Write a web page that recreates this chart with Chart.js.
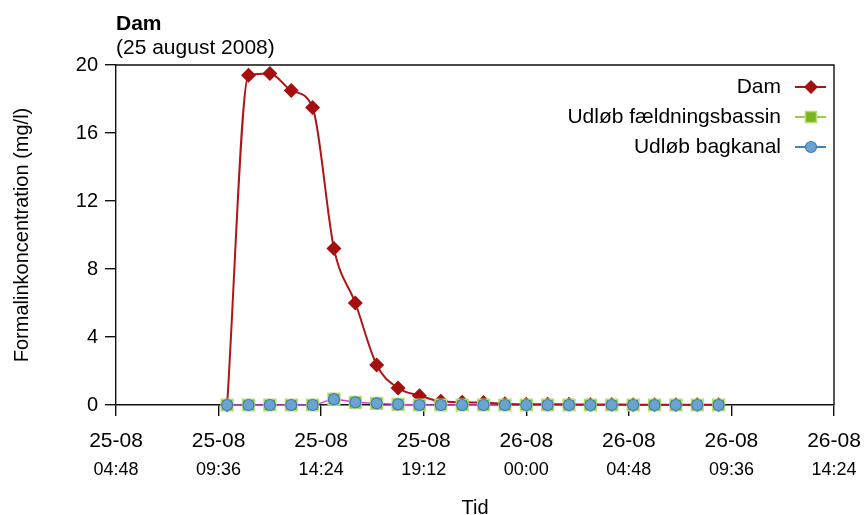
<!DOCTYPE html>
<html>
<head>
<meta charset="utf-8">
<script src="https://cdn.jsdelivr.net/npm/chart.js@4"></script>
<style>
  html, body { margin: 0; padding: 0; background: #fff; }
  #wrap { width: 864px; height: 515px; position: relative; }
</style>
</head>
<body>
<div id="wrap"><canvas id="c" width="864" height="515"></canvas></div>
<script>
// Sample times: hours since 25-08 00:00 (hourly readings)
const sampleHours = [10, 11, 12, 13, 14, 15, 16, 17, 18, 19, 20, 21, 22, 23, 24, 25, 26, 27, 28, 29, 30, 31, 32, 33];
// Series values (mg/l)
const damValues = [0, 19.4, 19.5, 18.5, 17.5, 9.2, 6.0, 2.35, 1.0, 0.55, 0.22, 0.16, 0.14, 0.08, 0.05, 0.05, 0.04, 0.03, 0.03, 0.02, 0.02, 0.02, 0.02, 0.02];
const faeldningValues = [0, 0, 0, 0, 0, 0.34, 0.16, 0.1, 0.04, 0, 0, 0, 0, 0, 0, 0, 0, 0, 0, 0, 0, 0, 0, 0];
const bagkanalValues = [0, 0, 0, 0, 0, 0.34, 0.16, 0.1, 0.04, 0, 0, 0, 0, 0, 0, 0, 0, 0, 0, 0, 0, 0, 0, 0];
// Series names
const seriesNames = ["Dam", "Udløb fældningsbassin", "Udløb bagkanal"];
// Tick labels
const tickDates = ["25-08", "25-08", "25-08", "25-08", "26-08", "26-08", "26-08", "26-08"];
const tickTimes = ["04:48", "09:36", "14:24", "19:12", "00:00", "04:48", "09:36", "14:24"];
const yTickValues = [0, 4, 8, 12, 16, 20];
const titleText = "Dam";
const subtitleText = "(25 august 2008)";
const yTitle = "Formalinkoncentration (mg/l)";
const xTitle = "Tid";

const FONT = "'Liberation Sans', Arial, Helvetica, sans-serif";
const xMin = 4.8 * 60, xMax = 38.4 * 60, xStep = 4.8 * 60; // minutes

const toPts = (vals) => vals.map((v, i) => ({ x: sampleHours[i] * 60, y: v }));

const colors = {
  dam: '#a50f0f',
  damLine: '#b01515',
  greenFill: '#78b41e',
  greenBorder: '#b6dc72',
  greenLine: '#9ccc44',
  blueFill: '#6aa3cf',
  blueBorder: '#3c7fb8',
  blueLine: '#3c86c6',
  magenta: '#d43fd0'
};

const frameAndLegend = {
  id: 'frameAndLegend',
  afterDraw(chart) {
    const ctx = chart.ctx;
    const a = chart.chartArea;
    ctx.save();
    // top & right frame
    ctx.strokeStyle = '#111';
    ctx.lineWidth = 1.4;
    ctx.beginPath();
    ctx.moveTo(a.left, a.top);
    ctx.lineTo(a.right, a.top);
    ctx.lineTo(a.right, a.bottom);
    ctx.stroke();

    // title & subtitle
    ctx.fillStyle = '#000';
    ctx.textAlign = 'left';
    ctx.textBaseline = 'middle';
    ctx.font = 'bold 21px ' + FONT;
    ctx.fillText(titleText, a.left, 24);
    ctx.font = '21px ' + FONT;
    ctx.fillText(subtitleText, a.left, 48);

    // legend
    const rows = [
      { name: seriesNames[0], line: colors.damLine, shape: 'diamond' },
      { name: seriesNames[1], line: colors.greenLine, shape: 'square' },
      { name: seriesNames[2], line: colors.blueLine, shape: 'circle' }
    ];
    const ys = [87, 117, 147];
    rows.forEach((r, i) => {
      const y = ys[i];
      ctx.font = '21px ' + FONT;
      ctx.fillStyle = '#000';
      ctx.textAlign = 'right';
      ctx.fillText(r.name, 781, y);
      ctx.strokeStyle = r.line;
      ctx.lineWidth = 2;
      ctx.beginPath();
      ctx.moveTo(795, y);
      ctx.lineTo(826, y);
      ctx.stroke();
      const cx = 811;
      if (r.shape === 'diamond') {
        ctx.fillStyle = colors.dam;
        ctx.beginPath();
        ctx.moveTo(cx, y - 7); ctx.lineTo(cx + 7, y); ctx.lineTo(cx, y + 7); ctx.lineTo(cx - 7, y);
        ctx.closePath(); ctx.fill();
      } else if (r.shape === 'square') {
        ctx.fillStyle = colors.greenFill;
        ctx.strokeStyle = colors.greenBorder;
        ctx.lineWidth = 1.5;
        ctx.fillRect(cx - 5.5, y - 5.5, 11, 11);
        ctx.strokeRect(cx - 5.5, y - 5.5, 11, 11);
      } else {
        ctx.fillStyle = colors.blueFill;
        ctx.strokeStyle = colors.blueBorder;
        ctx.lineWidth = 1.2;
        ctx.beginPath(); ctx.arc(cx, y, 5.5, 0, Math.PI * 2); ctx.fill(); ctx.stroke();
      }
    });
    ctx.restore();
  }
};

function noEdgePad(s) { s.paddingLeft = 0; s.paddingRight = 0; s.paddingTop = 0; s.paddingBottom = 0; }

new Chart(document.getElementById('c'), {
  type: 'line',
  data: {
    datasets: [
      {
        label: seriesNames[2] + ' (linje)',
        data: toPts(bagkanalValues),
        borderColor: colors.magenta,
        borderWidth: 1.5,
        pointRadius: 0,
        cubicInterpolationMode: 'monotone',
        clip: false,
        order: 4
      },
      {
        label: seriesNames[0],
        data: toPts(damValues),
        borderColor: colors.damLine,
        backgroundColor: colors.dam,
        borderWidth: 2,
        pointStyle: 'rectRot',
        pointRadius: 7.5,
        pointBorderWidth: 0,
        pointBackgroundColor: colors.dam,
        pointBorderColor: colors.dam,
        cubicInterpolationMode: 'monotone',
        clip: false,
        order: 3
      },
      {
        label: seriesNames[1],
        data: toPts(faeldningValues),
        showLine: false,
        pointStyle: 'rect',
        pointRadius: 8.3,
        pointBorderWidth: 1.5,
        pointBackgroundColor: colors.greenFill,
        pointBorderColor: colors.greenBorder,
        clip: false,
        order: 2
      },
      {
        label: seriesNames[2],
        data: toPts(bagkanalValues),
        showLine: false,
        pointStyle: 'circle',
        pointRadius: 5.5,
        pointBorderWidth: 1.2,
        pointBackgroundColor: colors.blueFill,
        pointBorderColor: colors.blueBorder,
        clip: false,
        order: 1
      }
    ]
  },
  options: {
    responsive: false,
    animation: false,
    events: [],
    layout: { autoPadding: false, padding: { top: 65, right: 30, left: 0, bottom: 0 } },
    plugins: {
      legend: { display: false },
      tooltip: { enabled: false },
      title: { display: false }
    },
    scales: {
      x: {
        type: 'linear',
        position: 'bottom',
        min: xMin, max: xMax,
        afterFit(s) { s.height = 52; noEdgePad(s); },
        afterBuildTicks(s) { s.ticks = tickDates.map((_, i) => ({ value: xMin + i * xStep })); },
        ticks: {
          stepSize: xStep,
          autoSkip: false,
          maxRotation: 0,
          padding: 13,
          color: '#000',
          font: { family: FONT, size: 21 },
          callback: (v, i) => tickDates[i]
        },
        grid: { display: true, drawOnChartArea: false, drawTicks: true, tickLength: 11, color: '#111', lineWidth: 1.4 },
        border: { display: true, color: '#111', width: 1.4 }
      },
      x2: {
        type: 'linear',
        position: 'bottom',
        min: xMin, max: xMax,
        afterFit(s) { s.height = 58; noEdgePad(s); },
        afterBuildTicks(s) { s.ticks = tickTimes.map((_, i) => ({ value: xMin + i * xStep })); },
        ticks: {
          stepSize: xStep,
          autoSkip: false,
          maxRotation: 0,
          padding: 2,
          color: '#000',
          font: { family: FONT, size: 18 },
          callback: (v, i) => tickTimes[i]
        },
        grid: { display: false, drawTicks: false },
        border: { display: false },
        title: { display: true, text: xTitle, color: '#000', font: { family: FONT, size: 20, lineHeight: 1 }, padding: { top: 0, bottom: -3 } }
      },
      y: {
        type: 'linear',
        min: 0, max: 20,
        afterFit(s) { s.width = 116; noEdgePad(s); },
        afterBuildTicks(s) { s.ticks = yTickValues.map(v => ({ value: v })); },
        ticks: {
          stepSize: 4,
          padding: 7,
          color: '#000',
          font: { family: FONT, size: 20 }
        },
        grid: { display: true, drawOnChartArea: false, drawTicks: true, tickLength: 11, color: '#111', lineWidth: 1.4 },
        border: { display: true, color: '#111', width: 1.4 },
        title: { display: true, text: yTitle, color: '#000', font: { family: FONT, size: 20, lineHeight: 1.2 }, padding: { top: 10, bottom: 0 } }
      }
    }
  },
  plugins: [frameAndLegend]
});
</script>
</body>
</html>
